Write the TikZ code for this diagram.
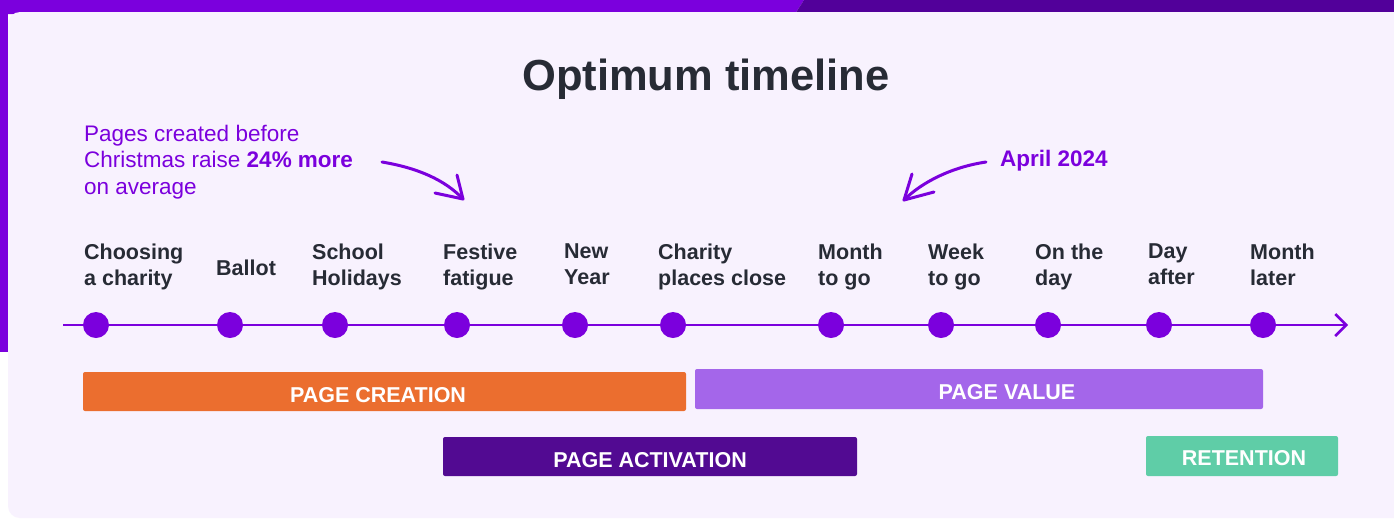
\documentclass[tikz,border=0pt]{standalone}
\usepackage{fontspec}
\setmainfont{Liberation Sans}
\usetikzlibrary{arrows.meta}
\definecolor{vio}{HTML}{7B00DD}
\definecolor{dvio}{HTML}{52009A}
\definecolor{panel}{HTML}{F8F2FE}
\definecolor{ink}{HTML}{272B35}
\definecolor{orangebar}{HTML}{EB6E2F}
\definecolor{lilac}{HTML}{A466EA}
\definecolor{deep}{HTML}{520A92}
\definecolor{mint}{HTML}{5FCDA7}
\tikzset{
  dot/.style={circle, fill=vio, inner sep=0pt, minimum size=26pt},
  lbl/.style={anchor=north west, align=left, text=ink, inner sep=0pt,
    font=\bfseries\fontsize{21.5}{26}\selectfont, execute at begin node=\strut},
  bar/.style={rounded corners=2pt, inner sep=0pt},
  bartext/.style={text=white, inner sep=0pt, font=\bfseries\fontsize{21.5}{24}\selectfont},
  hand/.style={draw=vio, line width=3pt, line cap=round, line join=round},
}
\begin{document}
\begin{tikzpicture}[x=1pt,y=-1pt]
\useasboundingbox (0,0) rectangle (1394,520);
\fill[white] (0,0) rectangle (1394,520);
% frame
\fill[vio] (0,0) -- (804,0) -- (795,14) -- (0,14) -- cycle;
\fill[vio] (0,0) rectangle (8,352);
\fill[dvio] (804,0) -- (1394,0) -- (1394,14) -- (795,14) -- cycle;
\fill[panel, rounded corners=12pt] (8,12) rectangle (1420,518);
% title
\node[text=ink, font=\bfseries\fontsize{43.5}{48}\selectfont] (title) at (706,79) {Optimum timeline};
% annotation
\node[anchor=west, align=left, text=vio, inner sep=0pt, font=\fontsize{22.5}{26.5}\selectfont] (note) at (84,162)
  {Pages created before\\Christmas raise \textbf{24\% more}\\on average};
\node[anchor=west, text=vio, inner sep=0pt, font=\bfseries\fontsize{22.5}{24}\selectfont] (april) at (1000,161) {April 2024};
% hand arrows
\coordinate (a1s) at (382,162);
\coordinate (a1e) at (463,199);
\draw[hand] (a1s) .. controls (418,168) and (445,180) .. (a1e);
\draw[hand] (457,175) -- (a1e) -- (435,193);
\coordinate (a2s) at (986,162);
\coordinate (a2e) at (904,200);
\draw[hand] (a2s) .. controls (952,167) and (922,182) .. (a2e);
\draw[hand] (912,174) -- (a2e) -- (934,192);
% timeline
\coordinate (tstart) at (63,325);
\coordinate (tend) at (1348,325);
\draw[vio, line width=2.5pt, -{Straight Barb[length=11pt,width=22pt]}] (tstart) -- (tend);
\foreach \n/\x in {1/96,2/230,3/335,4/457,5/575,6/673,7/831,8/941,9/1048,10/1159,11/1263}
  \node[dot] (d\n) at (\x,325) {};
% labels
\node[lbl] (l1) at (84,244) {Choosing\\a charity};
\node[lbl] (l2) at (216,257) {Ballot};
\node[lbl] (l3) at (312,244) {School\\Holidays};
\node[lbl] (l4) at (443,244) {Festive\\fatigue};
\node[lbl] (l5) at (564,244) {New\\Year};
\node[lbl] (l6) at (658,244) {Charity\\places close};
\node[lbl] (l7) at (818,244) {Month\\to go};
\node[lbl] (l8) at (928,244) {Week\\to go};
\node[lbl] (l9) at (1035,244) {On the\\day};
\node[lbl] (l10) at (1148,244) {Day\\after};
\node[lbl] (l11) at (1250,244) {Month\\later};
% bars
\node[bar, fill=orangebar, minimum width=603pt, minimum height=39pt] (b1) at (384.5,391.5) {};
\node[bartext] (t1) at (378,395) {PAGE CREATION};
\node[bar, fill=lilac, minimum width=568pt, minimum height=40pt] (b2) at (979,389) {};
\node[bartext] (t2) at (1007,392) {PAGE VALUE};
\node[bar, fill=deep, minimum width=414pt, minimum height=39pt] (b3) at (650,456.5) {};
\node[bartext] (t3) at (650,460) {PAGE ACTIVATION};
\node[bar, fill=mint, minimum width=192pt, minimum height=40pt] (b4) at (1242,456) {};
\node[bartext] (t4) at (1244,458) {RETENTION};
\end{tikzpicture}
\end{document}
